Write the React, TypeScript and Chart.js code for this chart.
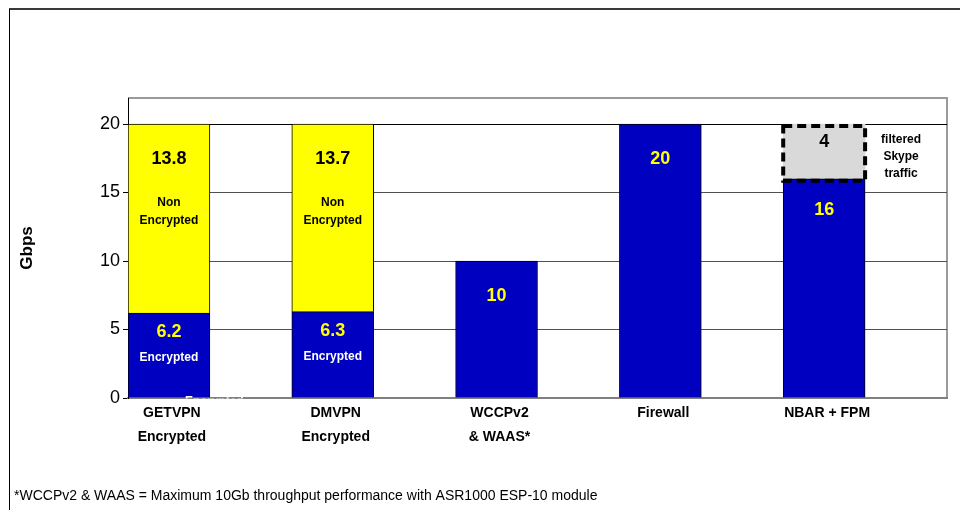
import React, { useEffect, useRef } from 'react';
import { Chart, registerables } from 'chart.js';

Chart.register(...registerables);

const categories = [['GETVPN', 'Encrypted'], ['DMVPN', 'Encrypted'], ['WCCPv2', '& WAAS*'], ['Firewall'], ['NBAR + FPM']];
const encrypted = [6.2, 6.3, 10, 20, 16];
const nonEncrypted = [13.8, 13.7, null, null, null];
const skypeFiltered = [null, null, null, null, 4];
const emptySlot = [null, null, null, null, null];
const yTicks = [0, 5, 10, 15, 20];
const yMax = 21.9;
const yTitle = 'Gbps';
const encLabel = 'Encrypted';
const nonEncLabel = ['Non', 'Encrypted'];
const skypeNote = ['filtered', 'Skype', 'traffic'];
const footnote = '*WCCPv2 & WAAS = Maximum 10Gb throughput performance with ASR1000 ESP-10 module';

const FONT = "'Liberation Sans', Arial, sans-serif";

const fmt = (v: number) => (Number.isInteger(v) ? String(v) : v.toFixed(1));

const decorPlugin = {
  id: 'decor',
  beforeDraw(chart: any) {
    const { ctx, chartArea: a, width, height } = chart;
    ctx.save();
    ctx.fillStyle = '#fff';
    ctx.fillRect(0, 0, width, height);
    // outer frame
    ctx.strokeStyle = '#3a3a3a';
    ctx.lineWidth = 2;
    ctx.beginPath();
    ctx.moveTo(width, 9);
    ctx.lineTo(9, 9);
    ctx.stroke();
    ctx.lineWidth = 1;
    ctx.strokeStyle = '#000';
    ctx.beginPath();
    ctx.moveTo(9.5, 9);
    ctx.lineTo(9.5, height);
    ctx.stroke();
    // plot area border (top / right)
    ctx.strokeStyle = '#9a9a9a';
    ctx.lineWidth = 2;
    ctx.beginPath();
    ctx.moveTo(a.left, a.top);
    ctx.lineTo(a.right, a.top);
    ctx.lineTo(a.right, a.bottom);
    ctx.stroke();
    // footnote
    ctx.fillStyle = '#000';
    ctx.font = `14px ${FONT}`;
    ctx.textAlign = 'left';
    ctx.textBaseline = 'middle';
    ctx.fillText(footnote, 14, 496);
    ctx.restore();
  },
  afterDatasetsDraw(chart: any) {
    const { ctx } = chart;
    const mEnc = chart.getDatasetMeta(0);
    const mNon = chart.getDatasetMeta(1);
    const mSky = chart.getDatasetMeta(2);
    ctx.save();
    ctx.textAlign = 'center';
    ctx.textBaseline = 'middle';

    // Non encrypted (yellow) segments
    nonEncrypted.forEach((v, i) => {
      if (v == null) return;
      const el = mNon.data[i];
      ctx.fillStyle = '#000';
      ctx.font = `bold 18px ${FONT}`;
      ctx.fillText(fmt(v), el.x, el.y + 35);
      ctx.font = `bold 12px ${FONT}`;
      ctx.fillText(nonEncLabel[0], el.x, el.y + 79);
      ctx.fillText(nonEncLabel[1], el.x, el.y + 97);
    });

    // Encrypted (blue) segments
    encrypted.forEach((v, i) => {
      const el = mEnc.data[i];
      const stackedAbove = nonEncrypted[i] != null;
      const hasSky = skypeFiltered[i] != null;
      ctx.fillStyle = '#ffff00';
      ctx.font = `bold 18px ${FONT}`;
      ctx.fillText(fmt(v), el.x, el.y + (stackedAbove ? 19 : hasSky ? 31 : 35));
      if (stackedAbove) {
        ctx.fillStyle = '#fff';
        ctx.font = `bold 12px ${FONT}`;
        ctx.fillText(encLabel, el.x, el.y + 45);
      }
    });

    // stray clipped label at GETVPN bottom
    {
      const el = mEnc.data[0];
      ctx.save();
      ctx.beginPath();
      ctx.rect(0, 0, chart.width, el.base + 1);
      ctx.clip();
      ctx.fillStyle = '#fff';
      ctx.font = `bold 12px ${FONT}`;
      ctx.textAlign = 'left';
      ctx.fillText(encLabel, el.x + 16, el.base + 4);
      ctx.restore();
    }

    // filtered skype (grey, dashed) segment
    skypeFiltered.forEach((v, i) => {
      if (v == null) return;
      const el = mSky.data[i];
      const w = el.width;
      ctx.save();
      ctx.strokeStyle = '#000';
      ctx.lineWidth = 4;
      ctx.setLineDash([9, 5]);
      ctx.strokeRect(el.x - w / 2, el.y + 2, w, el.base - el.y);
      ctx.restore();
      ctx.fillStyle = '#000';
      ctx.font = `bold 18px ${FONT}`;
      ctx.fillText(fmt(v), el.x, el.y + 18);
      ctx.font = `bold 12px ${FONT}`;
      const nx = el.x + w / 2 + 36;
      skypeNote.forEach((t, k) => ctx.fillText(t, nx, el.y + 16 + k * 17));
    });
    ctx.restore();
  },
};

export default function App() {
  const ref = useRef<HTMLCanvasElement>(null);
  useEffect(() => {
    if (!ref.current) return;
    Chart.defaults.font.family = FONT;
    const chart = new Chart(ref.current, {
      type: 'bar',
      data: {
        labels: categories as any,
        datasets: [
          { label: 'Encrypted', data: encrypted, stack: 'a', backgroundColor: '#0000c0', borderColor: '#000', borderWidth: 1 },
          { label: 'Non Encrypted', data: nonEncrypted as any, stack: 'a', backgroundColor: '#ffff00', borderColor: '#000', borderWidth: 1 },
          { label: 'filtered Skype traffic', data: skypeFiltered as any, stack: 'a', backgroundColor: '#d9d9d9', borderWidth: 0 },
          { label: '', data: emptySlot as any, stack: 'b', backgroundColor: 'rgba(0,0,0,0)', borderWidth: 0 },
        ],
      },
      options: {
        responsive: false,
        animation: false,
        devicePixelRatio: 1,
        layout: { padding: { left: 0, top: 98, right: 13, bottom: 0 } },
        datasets: { bar: { categoryPercentage: 1, barPercentage: 1 } } as any,
        plugins: { legend: { display: false }, tooltip: { enabled: false } },
        scales: {
          x: {
            stacked: true,
            grid: { display: false },
            border: { display: true, color: '#808080', width: 2 },
            ticks: { color: '#000', font: { size: 14, weight: 'bold', lineHeight: 1.65 }, padding: -4, labelOffset: -38, maxRotation: 0, autoSkip: false },
            afterFit: (s: any) => { s.height = 112; },
          },
          y: {
            stacked: true,
            min: 0,
            max: yMax,
            afterBuildTicks: (s: any) => { s.ticks = yTicks.map((v) => ({ value: v })); },
            grid: {
              color: (c: any) => (c.tick && c.tick.value === 20 ? '#000' : '#505050'),
              tickColor: '#000',
              tickLength: 5,
              lineWidth: 1,
            },
            border: { color: '#000', width: 1 },
            ticks: { color: '#000', font: { size: 18 }, padding: 3 },
            title: { display: true, text: yTitle, color: '#000', font: { size: 17, weight: 'bold' }, padding: { top: 17, bottom: 0 } },
            afterFit: (s: any) => { s.width = 128; },
          },
        },
      },
      plugins: [decorPlugin],
    });
    return () => chart.destroy();
  }, []);
  return (
    <div style={{ position: 'fixed', left: 0, top: 0, width: 960, height: 510, background: '#fff' }}>
      <canvas ref={ref} width={960} height={510} style={{ display: 'block' }} />
    </div>
  );
}
